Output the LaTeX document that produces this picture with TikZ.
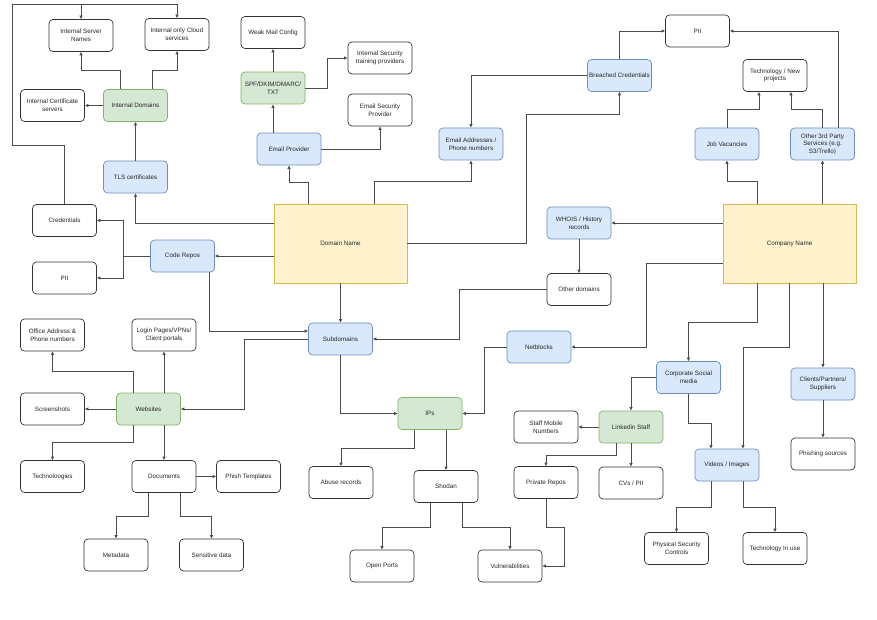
\documentclass[tikz,border=0pt]{standalone}
\usepackage{fontspec}
\setmainfont{Liberation Sans}
\usepackage{xcolor}
\usepackage{tikz}
\usetikzlibrary{arrows.meta}

\definecolor{bluefill}{HTML}{DAE8FC}
\definecolor{blueline}{HTML}{6C8EBF}
\definecolor{greenfill}{HTML}{D5E8D4}
\definecolor{greenline}{HTML}{82B366}
\definecolor{yellowfill}{HTML}{FFF2CC}
\definecolor{yellowline}{HTML}{D6B656}

\begin{document}
\begin{tikzpicture}[x=1pt, y=-1pt,
        box/.style={draw=black!80, fill=white, line width=0.7pt, rounded corners=4pt,
            minimum width=64pt, minimum height=32pt, inner xsep=1pt, align=center,
            text=black!85, font=\fontsize{6.3}{7.6}\selectfont},
        bluebox/.style={box, draw=blueline, fill=bluefill},
        greenbox/.style={box, draw=greenline, fill=greenfill},
        bigbox/.style={box, draw=yellowline, fill=yellowfill, rounded corners=0pt,
            minimum width=133pt, minimum height=79pt},
        arr/.style={-{Latex[length=3.5pt, width=3.5pt]}, draw=black!70, line width=0.7pt}]
        \useasboundingbox (0, 0) rectangle (877, 620);

        % domain side
        \node [bigbox] (dn) at (340.5, 243.5) {Domain Name};
        \node [bluebox] (tls) at (135.5, 177) {TLS certificates};
        \node [greenbox] (idom) at (135.5, 105.5) {Internal Domains};
        \node [box] (icert) at (52.5, 105.5) {Internal Certificate\\servers};
        \node [box] (isn) at (81, 35.5) {Internal Server\\Names};
        \node [box] (ics) at (177, 34.5) {Internal only Cloud\\services};
        \node [bluebox] (repos) at (182.5, 256) {Code Repos};
        \node [box] (cred) at (64.5, 220.5) {Credentials};
        \node [box] (piil) at (64.5, 278) {PII};
        \node [bluebox] (sub) at (340.5, 339) {Subdomains};
        \node [bluebox] (ep) at (289, 149) {Email Provider};
        \node [greenbox] (spf) at (273, 88) {SPF/DKIM/DMARC/\\TXT};
        \node [box] (wmc) at (273, 32.5) {Weak Mail Config};
        \node [box] (istp) at (380, 58) {Internal Security\\training providers};
        \node [box] (esp) at (380, 110) {Email Security\\Provider};
        \node [bluebox] (email) at (471, 144) {Email Addresses /\\Phone numbers};
        \node [bluebox] (bc) at (619.5, 75.5) {Breached Credentials};
        \node [box] (piit) at (697.5, 31) {PII};

        % company side
        \node [bigbox] (cn) at (789.5, 243.5) {Company Name};
        \node [box] (tech) at (775, 75.5) {Technology / New\\projects};
        \node [bluebox] (jobs) at (727, 144) {Job Vacancies};
        \node [bluebox] (other) at (822.5, 144) {Other 3rd Party\\Services (e.g.\\S3/Trello)};
        \node [bluebox] (whois) at (579, 223) {WHOIS / History\\records};
        \node [box] (odom) at (579, 289.5) {Other domains};
        \node [bluebox] (net) at (539, 347) {Netblocks};
        \node [bluebox] (csm) at (688.5, 377.5) {Corporate Social\\media};
        \node [bluebox] (clients) at (823, 384) {Clients/Partners/\\Suppliers};
        \node [box] (phish) at (823, 454) {Phishing sources};
        \node [greenbox] (li) at (631, 427) {Linkedin Staff};
        \node [box] (smn) at (546, 427) {Staff Mobile\\Numbers};
        \node [box] (cvs) at (631, 483) {CVs / PII};
        \node [box] (prepo) at (546, 482.5) {Private Repos};
        \node [bluebox] (vid) at (727, 465) {Videos / Images};
        \node [box] (psc) at (676.5, 548.5) {Physical Security\\Controls};
        \node [box] (tiu) at (775, 548.5) {Technology In use};

        % ips
        \node [greenbox] (ips) at (430, 413.5) {IPs};
        \node [box] (abuse) at (341, 482.5) {Abuse records};
        \node [box] (shodan) at (446, 486.5) {Shodan};
        \node [box] (ports) at (382, 566) {Open Ports};
        \node [box] (vuln) at (510, 566) {Vulnerabilities};

        % websites
        \node [greenbox] (web) at (148.5, 409) {Websites};
        \node [box] (office) at (52.5, 335) {Office Address \&\\Phone numbers};
        \node [box] (login) at (164, 335) {Login Pages/VPNs/\\Client portals};
        \node [box] (shots) at (52.5, 409) {Screenshots};
        \node [box] (techs) at (52.5, 476.5) {Technoloogies};
        \node [box] (docs) at (164, 476.5) {Documents};
        \node [box] (ptemp) at (248.5, 476.5) {Phish Templates};
        \node [box] (meta) at (116, 555) {Metadata};
        \node [box] (sens) at (211.5, 555) {Sensitive data};

        \coordinate (loopa) at (12, 145);
        \coordinate (loopb) at (12, 4);

        % domain name connectors
        \draw [arr] ([yshift=20.5pt]dn.west) -| (tls.south);
        \draw [arr] (dn.west |- repos.east) -- (repos.east);
        \draw [arr] (dn.south) -- (sub.north);
        \draw [arr] ([xshift=-32.5pt]dn.north) -- ++(0, -21) -| (ep.south);
        \draw [arr] ([xshift=33.5pt]dn.north) -- ++(0, -22) -| (email.south);
        \draw [arr] (dn.east) -- ++(119, 0) |- ([yshift=-23pt]bc.south) -- (bc.south);
        \draw [arr] (tls.north) -- (idom.south);
        \draw [arr] (idom.west) -- (icert.east);
        \draw [arr] ([xshift=-15.5pt]idom.north) -- ++(0, -19) -| (isn.south);
        \draw [arr] ([xshift=16.5pt]idom.north) -- ++(0, -19) -| (ics.south);
        \draw [arr] (cred.north) |- (loopa) -- (loopb) -| (ics.north);
        \draw [arr] (isn.north |- loopb) -- (isn.north);
        \draw [arr] (repos.west) -- ++(-27, 0) |- (cred.east);
        \draw [arr] (repos.west) -- ++(-27, 0) |- (piil.east);
        \draw [arr] ([xshift=26.5pt]repos.south) |- ([yshift=8pt]sub.west);
        \draw [arr] (ep.north -| spf.south) -- (spf.south);
        \draw [arr] (spf.north) -- (wmc.south);
        \draw [arr] (spf.east) -- ++(22, 0) |- (istp.west);
        \draw [arr] (ep.east) -| (esp.south);
        \draw [arr] (bc.west) -| (email.north);
        \draw [arr] (bc.north) |- (piit.west);

        % company name connectors
        \draw [arr] (cn.west |- whois.east) -- (whois.east);
        \draw [arr] ([yshift=-19.5pt]cn.west) -- ++(-76, 0) |- (net.east);
        \draw [arr] ([xshift=-32.5pt]cn.north) -- ++(0, -22) -| (jobs.south);
        \draw [arr] (cn.north -| other.south) -- (other.south);
        \draw [arr] (jobs.north) -- ++(0, -18) -| ([xshift=-16pt]tech.south);
        \draw [arr] (other.north) -- ++(0, -18) -| ([xshift=16pt]tech.south);
        \draw [arr] ([xshift=15.5pt]other.north) |- (piit.east);
        \draw [arr] ([xshift=-32.5pt]cn.south) -- ++(0, 39) -| (csm.north);
        \draw [arr] (cn.south) -- ++(0, 64) -| ([xshift=16pt]vid.north);
        \draw [arr] (cn.south -| clients.north) -- (clients.north);
        \draw [arr] (clients.south) -- (phish.north);
        \draw [arr] (whois.south) -- (odom.north);
        \draw [arr] (odom.west) -- ++(-87, 0) |- (sub.east);
        \draw [arr] (csm.west) -| (li.north);
        \draw [arr] (csm.south) -- ++(0, 29) -| ([xshift=-16pt]vid.north);
        \draw [arr] (li.west) -- (smn.east);
        \draw [arr] (li.south) -- (cvs.north);
        \draw [arr] ([xshift=-15pt]li.south) -- ++(0, 12) -| (prepo.north);
        \draw [arr] (prepo.south) -- ++(0, 28.5) -- ++(18, 0) |- (vuln.east);
        \draw [arr] ([xshift=-16pt]vid.south) -- ++(0, 26) -| (psc.north);
        \draw [arr] ([xshift=16pt]vid.south) -- ++(0, 26) -| (tiu.north);

        % ips and websites
        \draw [arr] (net.west) -- ++(-22, 0) |- (ips.east);
        \draw [arr] (sub.south) |- (ips.west);
        \draw [arr] ([xshift=-16pt]ips.south) -- ++(0, 18.5) -| (abuse.north);
        \draw [arr] (ips.south -| shodan.north) -- (shodan.north);
        \draw [arr] ([xshift=-16pt]shodan.south) -- ++(0, 24.5) -| (ports.north);
        \draw [arr] ([xshift=16pt]shodan.south) -- ++(0, 24.5) -| (vuln.north);
        \draw [arr] (sub.west) -- ++(-64, 0) |- (web.east);
        \draw [arr] ([xshift=-15.5pt]web.north) -- ++(0, -21) -| (office.south);
        \draw [arr] (web.north -| login.south) -- (login.south);
        \draw [arr] (web.west) -- (shots.east);
        \draw [arr] ([xshift=-15.5pt]web.south) -- ++(0, 17) -| (techs.north);
        \draw [arr] (web.south -| docs.north) -- (docs.north);
        \draw [arr] (docs.east) -- (ptemp.west);
        \draw [arr] ([xshift=-16pt]docs.south) -- ++(0, 23.5) -| (meta.north);
        \draw [arr] ([xshift=16pt]docs.south) -- ++(0, 23.5) -| (sens.north);
    \end{tikzpicture}
\end{document}
